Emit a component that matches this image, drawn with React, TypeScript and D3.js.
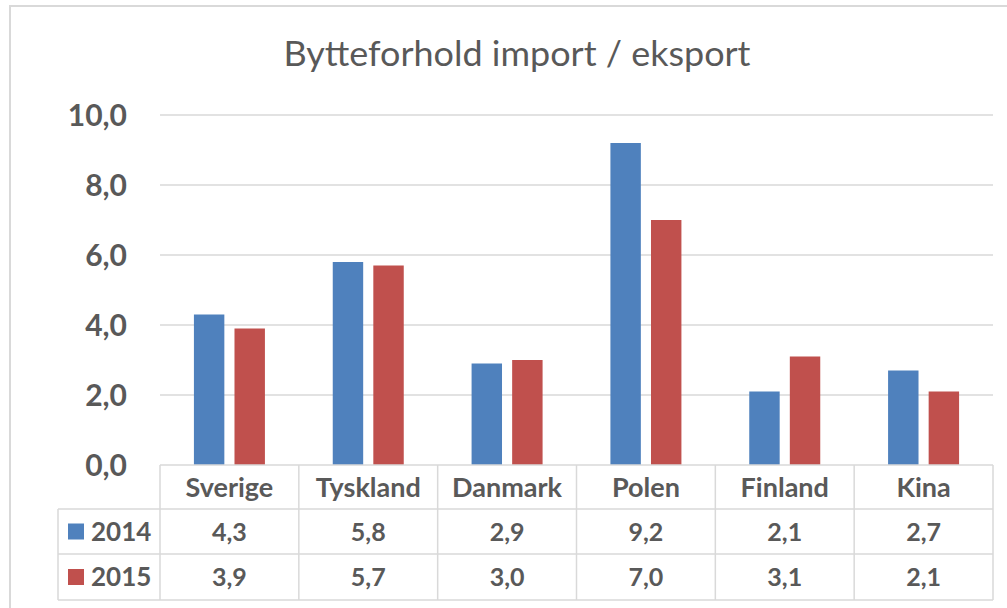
import React from 'react';
import * as d3 from 'd3';

const categories = ['Sverige', 'Tyskland', 'Danmark', 'Polen', 'Finland', 'Kina'];
const seriesNames = ['2014', '2015'];
const values2014 = [4.3, 5.8, 2.9, 9.2, 2.1, 2.7];
const values2015 = [3.9, 5.7, 3.0, 7.0, 3.1, 2.1];
const yTicks = [0, 2, 4, 6, 8, 10];

const colors = ['#4F81BD', '#C0504D'];
const textColor = '#595959';
const gridColor = '#D9D9D9';
const font = 'Lato, "Open Sans", sans-serif';

const width = 1007;
const height = 608;
const plot = { left: 160, right: 993, top: 115, bottom: 465 };
const rowH = [44, 45, 46];
const legendLeft = 58;

const fmt = (v: number) => d3.format('.1f')(v).replace('.', ',');

export default function App() {
  const x = d3
    .scaleBand()
    .domain(categories)
    .range([plot.left, plot.right]);
  const inner = d3
    .scaleBand()
    .domain(seriesNames)
    .range([0, 71])
    .paddingInner(0.25);
  const y = d3.scaleLinear().domain([0, 10]).range([plot.bottom, plot.top]);

  const series = [values2014, values2015];
  const groupOffset = (x.bandwidth() - 71) / 2;

  const row1 = plot.bottom + rowH[0];
  const row2 = row1 + rowH[1];
  const row3 = row2 + rowH[2];

  return (
    <svg
      width={width}
      height={height}
      style={{ position: 'absolute', left: 0, top: 0, background: '#fff' }}
    >
      <rect x={10} y={6} width={1100} height={700} fill="#fff" stroke={gridColor} strokeWidth={2} />

      <text
        x={517}
        y={66}
        textAnchor="middle"
        fontFamily={font}
        fontSize={35}
        textLength={467}
        lengthAdjust="spacingAndGlyphs"
        fill={textColor}
      >
        Bytteforhold import / eksport
      </text>

      {yTicks.map(t => (
        <g key={t}>
          {t > 0 && (
            <line
              x1={plot.left}
              x2={plot.right}
              y1={y(t)}
              y2={y(t)}
              stroke={gridColor}
              strokeWidth={1.3}
            />
          )}
          <text
            x={127}
            y={y(t)}
            dy="0.36em"
            textAnchor="end"
            fontFamily={font}
            fontWeight="bold"
            fontSize={30}
            fill={textColor}
          >
            {fmt(t)}
          </text>
        </g>
      ))}

      {series.map((vals, si) =>
        vals.map((v, i) => (
          <rect
            key={`${si}-${i}`}
            x={(x(categories[i]) as number) + groupOffset + (inner(seriesNames[si]) as number)}
            y={y(v)}
            width={inner.bandwidth()}
            height={y(0) - y(v)}
            fill={colors[si]}
          />
        )),
      )}

      {/* data table */}
      <g stroke={gridColor} strokeWidth={1.5} fill="none">
        <line x1={plot.left} x2={plot.right} y1={plot.bottom} y2={plot.bottom} />
        <line x1={legendLeft} x2={plot.right} y1={row1} y2={row1} />
        <line x1={legendLeft} x2={plot.right} y1={row2} y2={row2} />
        <line x1={legendLeft} x2={plot.right} y1={row3} y2={row3} />
        <line x1={legendLeft} x2={legendLeft} y1={row1} y2={row3} />
        {categories.map(c => (
          <line key={c} x1={x(c)} x2={x(c)} y1={plot.bottom} y2={row3} />
        ))}
        <line x1={plot.right} x2={plot.right} y1={plot.bottom} y2={row3} />
      </g>

      {categories.map((c, i) => {
        const cx = (x(c) as number) + x.bandwidth() / 2;
        return (
          <g key={c} fontFamily={font} fontWeight="bold" fill={textColor} textAnchor="middle">
            <text x={cx} y={plot.bottom + rowH[0] / 2} dy="0.36em" fontSize={27}>{c}</text>
            <text x={cx} y={row1 + rowH[1] / 2} dy="0.36em" fontSize={25}>{fmt(values2014[i])}</text>
            <text x={cx} y={row2 + rowH[2] / 2} dy="0.36em" fontSize={25}>{fmt(values2015[i])}</text>
          </g>
        );
      })}

      {seriesNames.map((s, si) => {
        const top = si === 0 ? row1 : row2;
        const h = rowH[si + 1];
        return (
          <g key={s}>
            <rect x={68} y={top + h / 2 - 8} width={16} height={16} fill={colors[si]} />
            <text
              x={91}
              y={top + h / 2}
              dy="0.36em"
              fontFamily={font}
              fontWeight="bold"
              fontSize={26}
              fill={textColor}
            >
              {s}
            </text>
          </g>
        );
      })}
    </svg>
  );
}
